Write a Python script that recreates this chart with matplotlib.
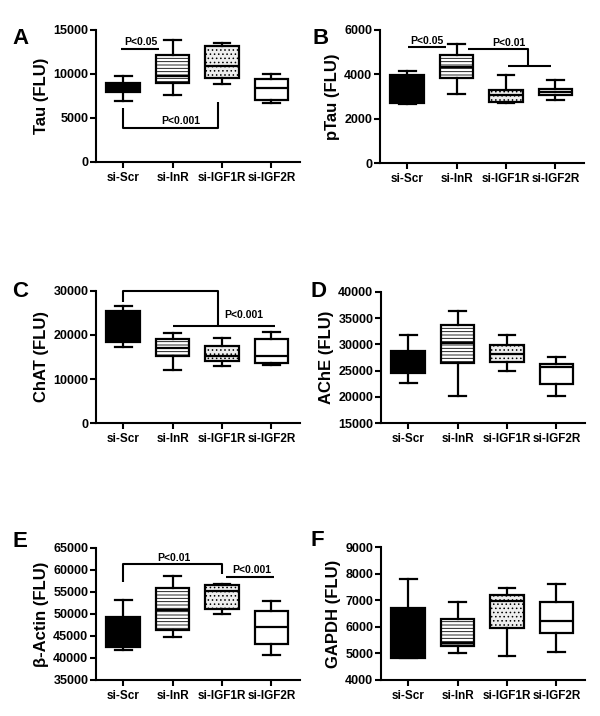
import matplotlib
matplotlib.use("Agg")
import matplotlib.pyplot as plt

plt.rcParams['font.family'] = ['Liberation Sans', 'DejaVu Sans']
plt.rcParams['font.weight'] = 'bold'
plt.rcParams['hatch.linewidth'] = 0.6
plt.rcParams['hatch.color'] = '#555555'

groups = ["si-Scr", "si-InR", "si-IGF1R", "si-IGF2R"]

# box summaries: (whislo, q1, med, q3, whishi) per group
tau = [(6950, 7950, 8400, 8950, 9750),
       (7560, 8950, 9800, 12150, 13850),
       (8880, 9520, 10950, 13180, 13560),
       (6760, 6990, 8390, 9420, 10010)]
ptau = [(2650, 2700, 3300, 3960, 4140),
        (3110, 3850, 4330, 4870, 5380),
        (2710, 2750, 3050, 3310, 3990),
        (2830, 3060, 3200, 3320, 3730)]
chat = [(17270, 18300, 22000, 25450, 26590),
        (12050, 15250, 17000, 19000, 20380),
        (12950, 14050, 15230, 17580, 19390),
        (13180, 13560, 15230, 19100, 20600)]
ache = [(22700, 24600, 27000, 28770, 31750),
        (20150, 26480, 30350, 33650, 36450),
        (24900, 26600, 28250, 29970, 31880),
        (20200, 22380, 25750, 26230, 27630)]
actin = [(41800, 42550, 45000, 49350, 53200),
         (44770, 46440, 50980, 55900, 58560),
         (49920, 51060, 55230, 56500, 56890),
         (40600, 43260, 47050, 50600, 52880)]
gapdh = [(4810, 4840, 5500, 6690, 7800),
         (5000, 5280, 5400, 6290, 6940),
         (4910, 5970, 6970, 7195, 7470),
         (5040, 5760, 6220, 6920, 7610)]

panels = [
    dict(letter="A", data=tau, ylabel="Tau (FLU)", ylim=(0, 15000), step=5000,
         rect=(96, 30, 204, 132), lpos=(12, 28)),
    dict(letter="B", data=ptau, ylabel="pTau (FLU)", ylim=(0, 6000), step=2000,
         rect=(380, 30, 204, 133), lpos=(312, 28)),
    dict(letter="C", data=chat, ylabel="ChAT (FLU)", ylim=(0, 30000), step=10000,
         rect=(96, 291, 204, 132), lpos=(12, 281)),
    dict(letter="D", data=ache, ylabel="AChE (FLU)", ylim=(15000, 40000), step=5000,
         rect=(381, 292, 204, 131), lpos=(311, 281)),
    dict(letter="E", data=actin, ylabel="β-Actin (FLU)", ylim=(35000, 65000), step=5000,
         rect=(96, 548, 204, 132), lpos=(12, 531)),
    dict(letter="F", data=gapdh, ylabel="GAPDH (FLU)", ylim=(4000, 9000), step=1000,
         rect=(381, 547, 204, 133), lpos=(310, 530)),
]

# significance annotations: (polyline xs, ys, label, label x, label y)
sig = {
    "A": [([-0.04, 0.72], [12800, 12800], "P<0.05", 0.36, 13050),
          ([0, 0, 1.93, 1.93], [6100, 3830, 3830, 6850], "P<0.001", 1.17, 4050)],
    "B": [([0.02, 0.78], [5220, 5220], "P<0.05", 0.40, 5300),
          ([1.23, 2.44, 2.44], [5130, 5130, 4390], "P<0.01", 2.05, 5210),
          ([2.05, 2.92], [4390, 4390], None, 0, 0)],
    "C": [([0, 0, 1.93, 1.93], [27570, 30000, 30000, 22110], "P<0.001", 2.45, 23400),
          ([1.0, 3.08], [22110, 22110], None, 0, 0)],
    "E": [([0, 0, 2.0, 2.0], [57340, 61280, 61280, 59020], "P<0.01", 1.03, 61700),
          ([2.08, 3.06], [58480, 58480], "P<0.001", 2.6, 58900)],
}

faces = ["black", "white", "#eeeeee", "white"]
hatches = [None, "-----", "....", None]

W, H = 600, 716
fig = plt.figure(figsize=(6, 7.16), dpi=100)

for p in panels:
    x0, top, w, h = p["rect"]
    ax = fig.add_axes([x0 / W, (H - top - h) / H, w / W, h / H])
    stats = []
    for g, (lo, q1, med, q3, hi) in zip(groups, p["data"]):
        stats.append(dict(label=g, whislo=lo, q1=q1, med=med, q3=q3, whishi=hi, fliers=[]))
    bp = ax.bxp(stats, positions=range(4), widths=0.68, patch_artist=True,
                showfliers=False,
                boxprops=dict(linewidth=1.6, edgecolor="black"),
                whiskerprops=dict(linewidth=1.6, color="black"),
                capprops=dict(linewidth=1.6, color="black"),
                medianprops=dict(linewidth=1.6, color="black"))
    for patch, fc, ht in zip(bp["boxes"], faces, hatches):
        patch.set_facecolor(fc)
        if ht:
            patch.set_hatch(ht)
    ax.set_xlim(-0.55, 3.58)
    lo, hi = p["ylim"]
    ax.set_ylim(lo, hi)
    ax.set_yticks(range(lo, hi + 1, p["step"]))
    ax.set_xticks(range(4))
    ax.set_xticklabels(groups, fontsize=8.5, fontweight="bold")
    for lab in ax.get_yticklabels():
        lab.set_fontsize(9)
        lab.set_fontweight("bold")
    for s in ["top", "right"]:
        ax.spines[s].set_visible(False)
    for s in ["left", "bottom"]:
        ax.spines[s].set_linewidth(1.5)
    ax.tick_params(axis="both", direction="out", length=4, width=1.5, pad=1.5)
    ax.tick_params(axis="x", pad=3)
    ax.set_ylabel(p["ylabel"], fontsize=12, fontweight="bold", labelpad=3)
    fig.text(p["lpos"][0] / W, 1 - p["lpos"][1] / H, p["letter"], fontsize=16,
             fontweight="bold", ha="left", va="top")
    for xs, ys, lab, tx, ty in sig.get(p["letter"], []):
        ax.plot(xs, ys, color="black", lw=1.5, clip_on=False, solid_capstyle="butt")
        if lab:
            ax.text(tx, ty, lab, fontsize=7.5, fontweight="bold", ha="center", va="bottom")

fig.savefig("out.png", dpi=100)
